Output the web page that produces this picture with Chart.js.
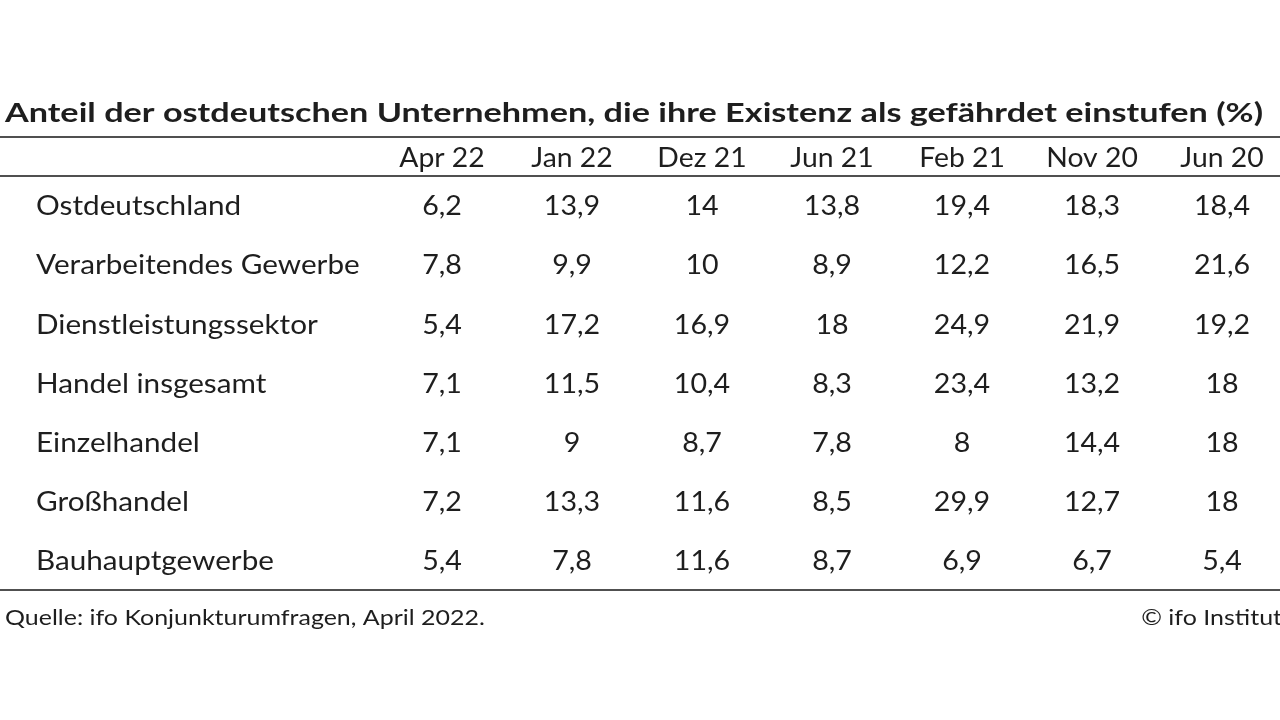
<!DOCTYPE html>
<html>
<head>
<meta charset="utf-8">
<script src="https://cdn.jsdelivr.net/npm/chart.js@4"></script>
<style>
html,body{margin:0;padding:0;background:#fff;overflow:hidden;}
#wrap{width:1280px;height:720px;position:relative;}
</style>
</head>
<body>
<div id="wrap"><canvas id="c" width="1280" height="720"></canvas></div>
<script>
const titleText = 'Anteil der ostdeutschen Unternehmen, die ihre Existenz als gefährdet einstufen (%)';
const sourceText = 'Quelle: ifo Konjunkturumfragen, April 2022.';
const creditText = '© ifo Institut';
const months = ['Apr 22', 'Jan 22', 'Dez 21', 'Jun 21', 'Feb 21', 'Nov 20', 'Jun 20'];
const sectors = ['Ostdeutschland', 'Verarbeitendes Gewerbe', 'Dienstleistungssektor', 'Handel insgesamt', 'Einzelhandel', 'Großhandel', 'Bauhauptgewerbe'];
const ostdeutschland = [6.2, 13.9, 14, 13.8, 19.4, 18.3, 18.4];
const verarbeitendesGewerbe = [7.8, 9.9, 10, 8.9, 12.2, 16.5, 21.6];
const dienstleistungssektor = [5.4, 17.2, 16.9, 18, 24.9, 21.9, 19.2];
const handelInsgesamt = [7.1, 11.5, 10.4, 8.3, 23.4, 13.2, 18];
const einzelhandel = [7.1, 9, 8.7, 7.8, 8, 14.4, 18];
const grosshandel = [7.2, 13.3, 11.6, 8.5, 29.9, 12.7, 18];
const bauhauptgewerbe = [5.4, 7.8, 11.6, 8.7, 6.9, 6.7, 5.4];
const rows = [ostdeutschland, verarbeitendesGewerbe, dienstleistungssektor, handelInsgesamt, einzelhandel, grosshandel, bauhauptgewerbe];

const FONT = 'Lato, "Open Sans", sans-serif';
const TEXT = '#1e1e1e';
const RULE = '#505050';

const datasets = rows.map((vals, r) => ({
  label: sectors[r],
  data: vals.map((v, i) => ({x: i, y: r, v: v})),
  pointRadius: 0,
  pointHoverRadius: 0,
  showLine: false
}));

function txt(ctx, s, x, y, align, sx) {
  ctx.save();
  ctx.translate(x, y);
  ctx.scale(sx, 1);
  ctx.textAlign = align;
  ctx.fillText(s, 0, 0);
  ctx.restore();
}

const tablePlugin = {
  id: 'tablePlugin',
  afterDatasetsDraw(chart) {
    const ctx = chart.ctx;
    const xs = chart.scales.x, ys = chart.scales.y;
    const area = chart.chartArea;
    const W = chart.width;
    ctx.save();
    ctx.strokeStyle = RULE;
    ctx.lineWidth = 2;
    const lines = [area.top - 39, area.top, area.bottom];
    lines.forEach(y => { ctx.beginPath(); ctx.moveTo(0, y); ctx.lineTo(W, y); ctx.stroke(); });
    ctx.fillStyle = TEXT;
    ctx.textBaseline = 'middle';
    // title
    ctx.font = 'bold 27px ' + FONT;
    txt(ctx, titleText, 5, area.top - 63, 'left', 1.267);
    // headers
    ctx.font = '27px ' + FONT;
    months.forEach((m, i) => txt(ctx, m, xs.getPixelForValue(i), area.top - 18, 'center', 1.05));
    // row labels
    sectors.forEach((s, r) => txt(ctx, s, 36, ys.getPixelForValue(r) + 1, 'left', 1.10));
    // cells
    chart.data.datasets.forEach((ds, di) => {
      const meta = chart.getDatasetMeta(di);
      meta.data.forEach((pt, i) => {
        txt(ctx, String(ds.data[i].v).replace('.', ','), pt.x, pt.y + 1, 'center', 1.06);
      });
    });
    // footer
    ctx.font = '22px ' + FONT;
    txt(ctx, sourceText, 5, area.bottom + 28, 'left', 1.135);
    txt(ctx, creditText, W + 2, area.bottom + 28, 'right', 1.135);
    ctx.restore();
  }
};

new Chart(document.getElementById('c'), {
  type: 'scatter',
  data: { datasets: datasets },
  options: {
    responsive: false,
    animation: false,
    events: [],
    layout: { padding: { left: 377, right: 10, top: 176, bottom: 130 } },
    plugins: { legend: { display: false }, tooltip: { enabled: false }, title: { display: false } },
    scales: {
      x: { type: 'linear', min: -0.5, max: 6.369, display: false },
      y: { type: 'linear', min: -0.5, max: 6.5, reverse: true, display: false }
    }
  },
  plugins: [tablePlugin]
});
</script>
</body>
</html>
